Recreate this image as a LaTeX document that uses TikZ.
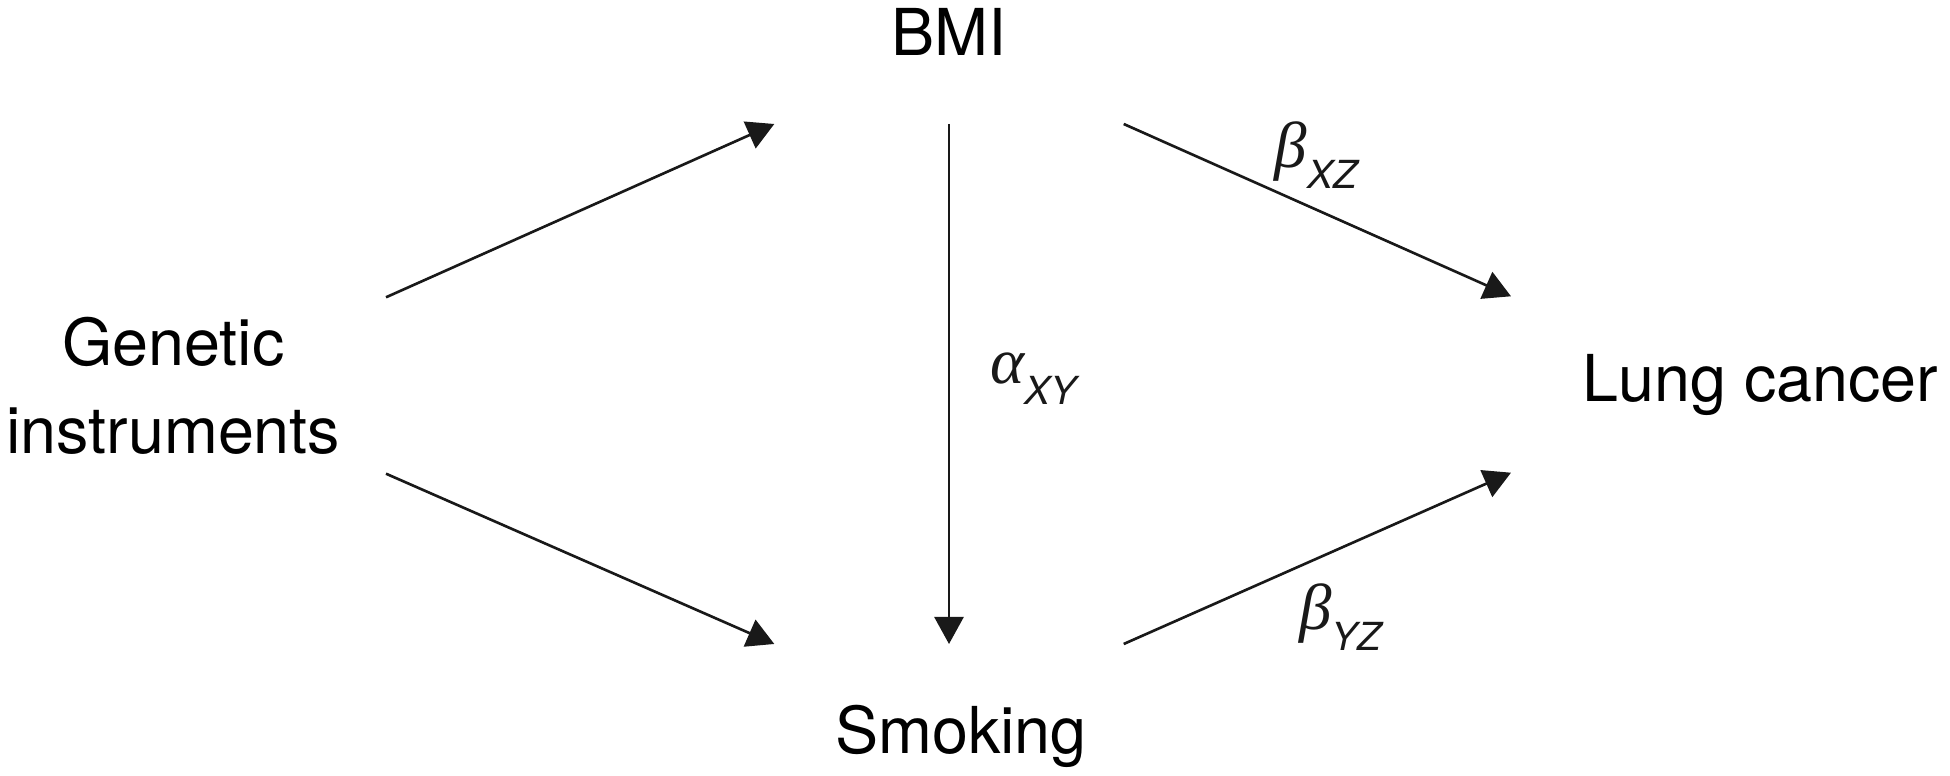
\documentclass[tikz,border=0pt]{standalone}
\usepackage{fontspec}
\setmainfont{TeX Gyre Heros}
\newfontfamily\grk{Liberation Serif}
\usetikzlibrary{arrows.meta,positioning}

\newcommand{\coefsym}[2]{{\grk\itshape\fontsize{18.5}{20}\selectfont #1}\raisebox{-0.21cm}{\fontsize{11}{12}\selectfont\itshape #2}}

\begin{document}
\begin{tikzpicture}[
  font=\fontsize{18.4}{25}\selectfont,
  >={Triangle[length=2.7mm,width=2.9mm]},
  causal/.style={->, line width=0.75pt, black!90},
  factor/.style={align=center, inner sep=0pt},
  coef/.style={inner sep=0pt, anchor=base west}
]
\useasboundingbox (0,0) rectangle (19.5,7.76);

% Exposures, instruments and outcome.
\node[factor, minimum width=3.48cm, minimum height=1.82cm, anchor=south] (bmi) at (9.49,6.52) {BMI};
\node[factor, minimum width=3.48cm, minimum height=1.83cm, anchor=north] (smoking) at (9.49,1.32) {\hspace*{0.24cm}Smoking};
\node[factor, minimum width=4.24cm, minimum height=1.75cm, anchor=east] (genetic) at (3.86,3.905) {Genetic\\instruments};
\node[factor, minimum width=4.98cm, minimum height=1.75cm, anchor=west] (lung) at (15.11,3.915) {Lung cancer};

% Instrument paths.
\draw[causal] (genetic.north east) -- (bmi.south west);
\draw[causal] (genetic.south east) -- (smoking.north west);

% BMI to smoking.
\draw[causal] (bmi.south) -- node[coef, pos=0.5, xshift=0.4cm] (axy) {\coefsym{α}{XY}} (smoking.north);

% Effects on lung cancer.
\draw[causal] (bmi.south east) -- node[coef, pos=0.387, yshift=0.23cm] (bxz) {\coefsym{β}{XZ}} (lung.north west);
\draw[causal] (smoking.north east) -- node[coef, pos=0.45, yshift=-0.63cm] (byz) {\coefsym{β}{YZ}} (lung.south west);

\end{tikzpicture}
\end{document}
